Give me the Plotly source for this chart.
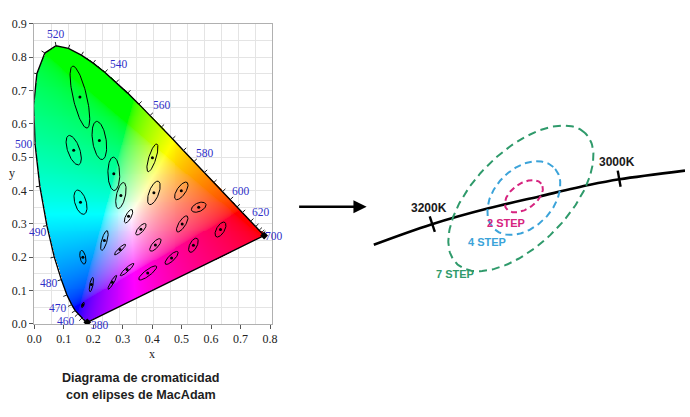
import numpy as np
import plotly.graph_objects as go

# ---------------- data ----------------
# CIE 1931 spectral locus, x on the picture's own axis scale
wl = [380, 390, 400, 410, 420, 430, 440, 450, 460, 465, 470, 475, 480, 485, 490, 495,
      500, 505, 510, 515, 520, 525, 530, 535, 540, 545, 550, 555, 560, 565, 570, 575,
      580, 585, 590, 595, 600, 605, 610, 620, 630, 640, 650, 660, 680, 700]
loc_x = [0.180, 0.180, 0.179, 0.179, 0.177, 0.175, 0.170, 0.162, 0.148, 0.139, 0.127, 0.111,
         0.092, 0.068, 0.043, 0.019, 0.003, -0.002, 0.009, 0.036, 0.074, 0.116, 0.160, 0.200,
         0.240, 0.278, 0.317, 0.355, 0.393, 0.431, 0.469, 0.506, 0.542, 0.577, 0.609, 0.639,
         0.665, 0.688, 0.706, 0.734, 0.751, 0.763, 0.771, 0.775, 0.779, 0.780]
loc_y = [0.005, 0.005, 0.005, 0.005, 0.005, 0.007, 0.011, 0.018, 0.030, 0.040, 0.058, 0.087,
         0.133, 0.201, 0.295, 0.413, 0.538, 0.655, 0.750, 0.812, 0.834, 0.826, 0.806, 0.782,
         0.754, 0.724, 0.692, 0.659, 0.625, 0.590, 0.555, 0.520, 0.487, 0.454, 0.424, 0.397,
         0.373, 0.351, 0.334, 0.308, 0.292, 0.281, 0.274, 0.270, 0.267, 0.265]
label_wl = [380, 460, 470, 480, 490, 500, 520, 540, 560, 580, 600, 620, 700]

# MacAdam ellipses: centre, semi-axes (x10^-3, drawn 10x enlarged), angle (deg)
ell_x = [0.165, 0.194, 0.265, 0.155, 0.134, 0.221, 0.270, 0.157, 0.294, 0.401, 0.165, 0.238,
         0.320, 0.406, 0.499, 0.558, 0.502, 0.540, 0.632, 0.362, 0.411, 0.466, 0.291, 0.315, 0.385]
ell_y = [0.057, 0.118, 0.125, 0.680, 0.521, 0.550, 0.450, 0.365, 0.385, 0.498, 0.200, 0.250,
         0.323, 0.393, 0.399, 0.350, 0.300, 0.236, 0.283, 0.284, 0.237, 0.198, 0.223, 0.163, 0.153]
ell_a = [0.85, 2.2, 2.5, 9.6, 4.7, 5.8, 5.0, 3.8, 4.0, 4.4, 2.1, 3.1, 2.3, 3.8, 3.2, 2.6, 2.9,
         2.4, 2.6, 2.3, 2.5, 2.8, 2.4, 2.9, 3.6]
ell_b = [0.35, 0.55, 0.5, 2.3, 2.0, 2.3, 2.0, 1.9, 1.5, 1.2, 0.95, 0.9, 0.9, 1.6, 1.4, 1.3, 1.1,
         1.2, 1.3, 0.9, 1.0, 0.95, 0.55, 0.6, 0.95]
ell_t = [62.5, 77, 55.5, 105, 112.5, 100, 92, 110, 75.5, 70, 104, 72, 58, 65.5, 51, 20, 53,
         57.5, 54, 44, 44, 40, 39.5, 38, 33]
ELL_MAG = 10

x_ticks = [0.0, 0.1, 0.2, 0.3, 0.4, 0.5, 0.6, 0.7, 0.8]

# right-hand illustration (illustration units)
cct_u = [13.3, 71.7, 130.0, 181.7, 233.3, 263.3, 330.0]
cct_v = [44.0, 65.0, 81.7, 94.0, 106.0, 111.7, 120.7]
cct_labels = ["3200K", "3000K"]
cct_tick_u = [72.8, 263.0]
cct_tick_v = [65.3, 112.3]
step_labels = ["2 STEP", "4 STEP", "7 STEP"]
step_cu = [166.0, 166.0, 163.0]
step_cv = [94.2, 92.3, 92.0]
step_a = [22.0, 44.0, 94.0]
step_b = [13.0, 30.0, 48.0]
step_t = [36.0, 47.0, 46.0]

# ---------------- layout geometry / style ----------------
W, H = 690, 417
LX0, LX1 = 27.7, 270.0          # left plot, px
LYB, LYT = 328.0, 17.3
XR = [0.0, 0.8077]
YR = [0.0, 0.9]
sx = (LX1 - LX0) / (XR[1] - XR[0])
sy = (LYB - LYT) / (YR[1] - YR[0])
RX0, RX1, RYB, RYT = 360.0, 690.0, 290.0, 110.0
STEP_COLORS = ["#d6247f", "#3ba3d9", "#2f9a6b"]
STEP_DASH = ["6px,4px", "7px,4.5px", "8px,5px"]
SERIF = "Liberation Serif"
SANS = "Liberation Sans"
WL_BLUE = "#2f2fc8"

fig = go.Figure()

# ---- colour fill of the chromaticity diagram (image masked to the locus) ----
lx = np.array(loc_x)
ly = np.array(loc_y)
xs = np.arange(-0.004, 0.786, 1.0 / sx)
ys = np.arange(0.0, 0.840, 1.0 / sy)
GX, GY = np.meshgrid(xs, ys)
inside = np.zeros(GX.shape, dtype=bool)
j = len(lx) - 1
for i in range(len(lx)):
    xi, yi, xj, yj = lx[i], ly[i], lx[j], ly[j]
    if yi != yj:
        cross = (yi > GY) != (yj > GY)
        xint = (xj - xi) * (GY - yi) / (yj - yi) + xi
        inside ^= cross & (GX < xint)
    j = i
xt = (GX + 0.006) / 1.07        # picture scale -> chromaticity for the colour
yt = np.maximum(GY, 1e-3)
Xc = xt / yt
Zc = (1 - xt - yt) / yt
R = 3.2406 * Xc - 1.5372 - 0.4986 * Zc
G = -0.9689 * Xc + 1.8758 + 0.0415 * Zc
B = 0.0557 * Xc - 0.2040 + 1.0570 * Zc
rgb = np.clip(np.stack([R, G, B], -1), 0, None)
rgb = rgb / (rgb.max(-1, keepdims=True) + 1e-9)
rgb = np.clip(rgb, 0, 1) ** (1 / 2.2)
rgb8 = (rgb * 255).round().astype(int)
alpha = inside.astype(int)
z = np.dstack([rgb8, alpha[..., None]])
fig.add_trace(go.Image(z=z.tolist(), colormodel="rgba", x0=xs[0], dx=xs[1] - xs[0],
                       y0=ys[0], dy=ys[1] - ys[0], hoverinfo="skip",
                       xaxis="x", yaxis="y"))

# locus outline
fig.add_trace(go.Scatter(x=loc_x + [loc_x[0]], y=loc_y + [loc_y[0]], mode="lines",
                         line=dict(color="black", width=1.4), hoverinfo="skip",
                         xaxis="x", yaxis="y"))
# locus wavelength ticks (outward normals)
tx, ty = [], []
for i in range(7, len(wl) - 1):
    dxp = (lx[i + 1] - lx[i - 1]) * sx
    dyp = (ly[i + 1] - ly[i - 1]) * sy
    n = np.hypot(dxp, dyp)
    nxp, nyp = -dyp / n, dxp / n
    tx += [lx[i], lx[i] + nxp * 4 / sx, None]
    ty += [ly[i], ly[i] + nyp * 4 / sy, None]
fig.add_trace(go.Scatter(x=tx, y=ty, mode="lines", line=dict(color="#222", width=1),
                         hoverinfo="skip", xaxis="x", yaxis="y"))
fig.add_trace(go.Scatter(x=[loc_x[0], loc_x[-1]], y=[loc_y[0], loc_y[-1]], mode="markers",
                         marker=dict(color="black", size=6, symbol="diamond"),
                         hoverinfo="skip", xaxis="x", yaxis="y"))

# MacAdam ellipses
t = np.linspace(0, 2 * np.pi, 80)
ex, ey = [], []
for cx, cy, a, b, th in zip(ell_x, ell_y, ell_a, ell_b, ell_t):
    a_ = a * 1e-3 * ELL_MAG
    b_ = b * 1e-3 * ELL_MAG
    r = np.radians(th)
    ex += list(cx + a_ * np.cos(t) * np.cos(r) - b_ * np.sin(t) * np.sin(r)) + [None]
    ey += list(cy + a_ * np.cos(t) * np.sin(r) + b_ * np.sin(t) * np.cos(r)) + [None]
fig.add_trace(go.Scatter(x=ex, y=ey, mode="lines", line=dict(color="black", width=1),
                         hoverinfo="skip", xaxis="x", yaxis="y"))
fig.add_trace(go.Scatter(x=ell_x, y=ell_y, mode="markers",
                         marker=dict(color="black", size=3), hoverinfo="skip",
                         xaxis="x", yaxis="y"))

# ---- right illustration ----
fig.add_trace(go.Scatter(x=cct_u, y=cct_v, mode="lines",
                         line=dict(color="black", width=2.6, shape="spline", smoothing=1),
                         hoverinfo="skip", xaxis="x2", yaxis="y2"))
cu = np.array(cct_u)
cv = np.array(cct_v)
seg_mid = (cu[1:] + cu[:-1]) / 2
seg_slope = np.diff(cv) / np.diff(cu)
kx, ky = [], []
for u, v in zip(cct_tick_u, cct_tick_v):
    s = np.interp(u, seg_mid, seg_slope)
    n = np.hypot(1, s)
    px_, py_ = -s / n, 1 / n
    kx += [u - px_ * 8.5, u + px_ * 8.5, None]
    ky += [v - py_ * 8.5, v + py_ * 8.5, None]
fig.add_trace(go.Scatter(x=kx, y=ky, mode="lines", line=dict(color="black", width=2.4),
                         hoverinfo="skip", xaxis="x2", yaxis="y2"))
t2 = np.linspace(0, 2 * np.pi, 200)
for cx, cy, a, b, th, col, dsh in zip(step_cu, step_cv, step_a, step_b, step_t,
                                      STEP_COLORS, STEP_DASH):
    r = np.radians(th)
    fig.add_trace(go.Scatter(
        x=cx + a * np.cos(t2) * np.cos(r) - b * np.sin(t2) * np.sin(r),
        y=cy + a * np.cos(t2) * np.sin(r) + b * np.sin(t2) * np.cos(r),
        mode="lines", line=dict(color=col, width=2, dash=dsh),
        hoverinfo="skip", xaxis="x2", yaxis="y2"))

# ---------------- annotations ----------------
ann = []
wl_offsets = {380: (13, -3), 460: (-12, -7), 470: (-14, -3), 480: (-12, -3),
              490: (-9, -6), 500: (-11, 0), 520: (0, 12), 540: (14, 8), 560: (12, 10),
              580: (11, 9), 600: (11, 9), 620: (10, 9), 700: (10, 0)}
C = dict(xanchor="center", yanchor="middle", showarrow=False)
for w in label_wl:
    k = wl.index(w)
    dx_, dy_ = wl_offsets[w]
    ann.append(dict(x=loc_x[k], y=loc_y[k], xref="x", yref="y", text=str(w),
                    xshift=dx_, yshift=dy_,
                    font=dict(family=SERIF, size=11.5, color=WL_BLUE), **C))
ann.append(dict(x=0.4, xref="x", y=1 - 359.5 / H, yref="paper", text="x",
                font=dict(family=SERIF, size=12, color="#222"), **C))
ann.append(dict(x=5 / W, xref="paper", y=0.452, yref="y", text="y",
                font=dict(family=SERIF, size=12, color="#222"), **C))
ann.append(dict(x=136 / W, xref="paper", y=1 - 384 / H, yref="paper",
                text="<b>Diagrama de cromaticidad</b>",
                font=dict(family=SANS, size=12.6, color="#1e1e1e"), **C))
ann.append(dict(x=136 / W, xref="paper", y=1 - 401.5 / H, yref="paper",
                text="<b>con elipses de MacAdam</b>",
                font=dict(family=SANS, size=12.6, color="#1e1e1e"), **C))
# arrow between the panels
ann.append(dict(x=366 / W, y=1 - 206.7 / H, xref="paper", yref="paper", ax=-69, ay=0,
                text="", showarrow=True, arrowhead=2, arrowsize=1.1, arrowwidth=2.4,
                arrowcolor="black"))
# right-panel labels
cct_label_pos = [(69, 81.7), (261, 130)]
for lab, (u, v) in zip(cct_labels, cct_label_pos):
    ann.append(dict(x=u, y=v, xref="x2", yref="y2", text="<b>" + lab + "</b>",
                    font=dict(family=SANS, size=12, color="#1a1a1a"), **C))
step_label_pos = [(148, 66), (129, 46.7), (96, 13.3)]
for lab, (u, v), col in zip(step_labels, step_label_pos, STEP_COLORS):
    ann.append(dict(x=u, y=v, xref="x2", yref="y2", text="<b>" + lab + "</b>",
                    font=dict(family=SANS, size=11, color=col), **C))

fig.update_layout(
    width=W, height=H, autosize=False,
    margin=dict(l=0, r=0, t=0, b=0),
    paper_bgcolor="white", plot_bgcolor="white",
    showlegend=False,
    annotations=ann,
    xaxis=dict(domain=[LX0 / W, LX1 / W], range=XR, autorange=False,
               tickvals=x_ticks, ticktext=["%.1f" % v for v in x_ticks],
               showgrid=False, zeroline=False, constrain="range",
               minor=dict(dtick=(XR[1] - XR[0]) / 14, tick0=0, showgrid=True,
                          gridcolor="#e4e4e4", gridwidth=1, ticks=""),
               showline=True, linecolor="#b0b0b0", mirror=True,
               ticks="outside", ticklen=4, tickcolor="#555",
               tickfont=dict(family=SERIF, size=12, color="#222")),
    yaxis=dict(domain=[(H - LYB) / H, (H - LYT) / H], range=YR, autorange=False,
               scaleanchor=False, constrain="range",
               dtick=0.1, tick0=0, tickformat=".1f",
               showgrid=True, gridcolor="#e4e4e4", zeroline=False,
               minor=dict(dtick=0.05, tick0=0, showgrid=True, gridcolor="#e4e4e4",
                          ticks=""),
               showline=True, linecolor="#b0b0b0", mirror=True,
               ticks="outside", ticklen=4, tickcolor="#555",
               tickfont=dict(family=SERIF, size=12, color="#222")),
    xaxis2=dict(domain=[RX0 / W, RX1 / W], range=[0, RX1 - RX0], autorange=False,
                visible=False, anchor="y2"),
    yaxis2=dict(domain=[(H - RYB) / H, (H - RYT) / H], range=[0, RYB - RYT],
                autorange=False, visible=False, anchor="x2"),
)

fig.write_html("out.html")
